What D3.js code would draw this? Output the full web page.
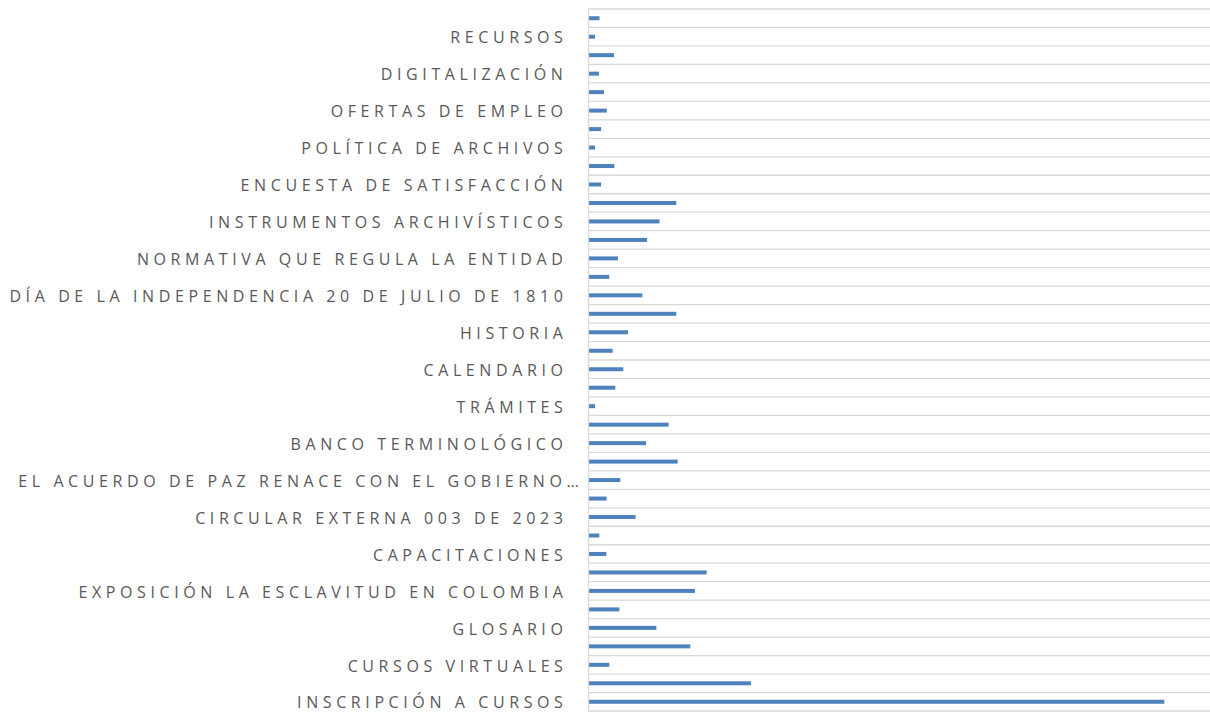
<!DOCTYPE html>
<html>
<head>
<meta charset="utf-8">
<script src="https://cdn.jsdelivr.net/npm/d3@7"></script>
<style>
  body { margin: 0; background: #fff; }
  .tick text { font-family: "Open Sans", sans-serif; font-size: 16px; fill: #595959; letter-spacing: 4.6px; }
</style>
</head>
<body>
<script>
// categories top to bottom; "" = label not shown by the chart
var labels = [
  "", "RECURSOS", "", "DIGITALIZACIÓN", "", "OFERTAS DE EMPLEO", "", "POLÍTICA DE ARCHIVOS",
  "", "ENCUESTA DE SATISFACCIÓN", "", "INSTRUMENTOS ARCHIVÍSTICOS", "", "NORMATIVA QUE REGULA LA ENTIDAD",
  "", "DÍA DE LA INDEPENDENCIA 20 DE JULIO DE 1810", "", "HISTORIA", "", "CALENDARIO",
  "", "TRÁMITES", "", "BANCO TERMINOLÓGICO", "", "EL ACUERDO DE PAZ RENACE CON EL GOBIERNO…",
  "", "CIRCULAR EXTERNA 003 DE 2023", "", "CAPACITACIONES", "", "EXPOSICIÓN LA ESCLAVITUD EN COLOMBIA",
  "", "GLOSARIO", "", "CURSOS VIRTUALES", "", "INSCRIPCIÓN A CURSOS"
];
var values = [
  59, 34, 141, 56, 84, 100, 68, 34, 142, 68,
  491, 397, 326, 163, 114, 300, 491, 219, 133, 193,
  148, 34, 448, 321, 499, 176, 99, 262, 58, 97,
  662, 596, 171, 379, 570, 114, 912, 3237
];

var margin = {top: 9, right: 0, bottom: 2, left: 588},
    width = 1210 - margin.left - margin.right,
    height = 713 - margin.top - margin.bottom;

var svg = d3.select("body").append("svg")
    .attr("width", 1210)
    .attr("height", 713)
  .append("g")
    .attr("transform", "translate(" + margin.left + "," + margin.top + ")");

var idx = d3.range(labels.length);

var x = d3.scaleLinear().domain([0, 3500]).range([0, width]);
var y = d3.scaleBand().domain(idx).range([0, height]);

// horizontal gridlines at the band edges
svg.selectAll("line.grid")
    .data(idx.concat([labels.length]))
  .enter().append("line")
    .attr("class", "grid")
    .attr("x1", 0)
    .attr("x2", width)
    .attr("y1", function(d) { return d < labels.length ? y(d) : height; })
    .attr("y2", function(d) { return d < labels.length ? y(d) : height; })
    .style("stroke", "#d9d9d9")
    .style("stroke-width", 1.3);

svg.selectAll("rect.bar")
    .data(values)
  .enter().append("rect")
    .attr("class", "bar")
    .attr("x", 1)
    .attr("y", function(d, i) { return y(i) + y.bandwidth() / 2 - 2; })
    .attr("width", function(d) { return x(d); })
    .attr("height", 4)
    .style("fill", "#4f81bd");

var yAxis = svg.append("g")
    .call(d3.axisLeft(y)
      .tickValues(idx.filter(function(i) { return labels[i] != ""; }))
      .tickFormat(function(i) { return labels[i]; })
      .tickSize(0)
      .tickPadding(20.5));
yAxis.select(".domain").style("stroke", "#d9d9d9").style("stroke-width", 1.3);
yAxis.selectAll(".tick text").attr("dy", "0.42em");
// the truncated label runs up to the axis
yAxis.selectAll(".tick text")
    .filter(function(i) { return labels[i].slice(-1) == "…"; })
    .attr("dx", 16);
</script>
</body>
</html>
